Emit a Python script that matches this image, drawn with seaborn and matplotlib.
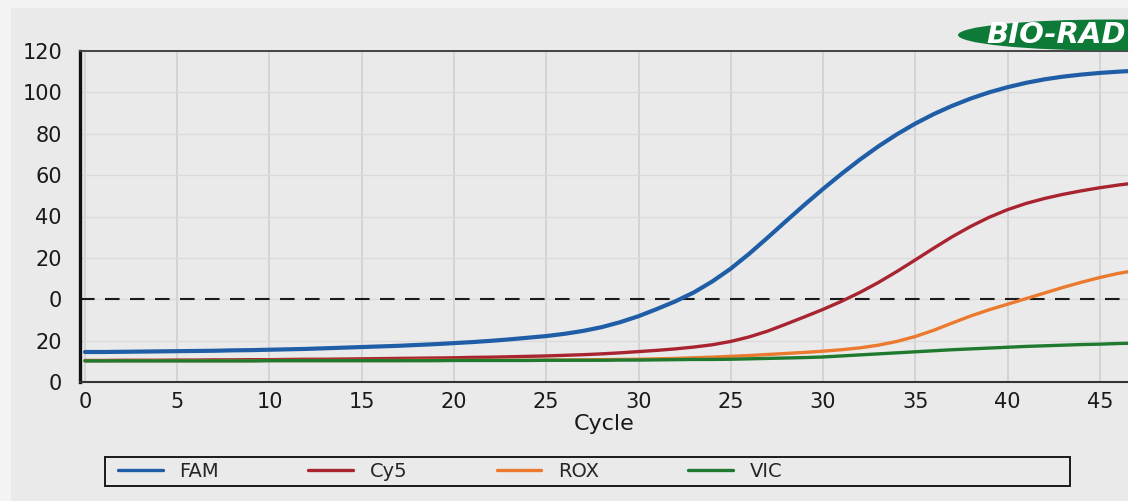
import numpy as np
import pandas as pd
import seaborn as sns
import matplotlib
matplotlib.use("Agg")
import matplotlib.pyplot as plt
from matplotlib.patches import Rectangle, Ellipse

# Amplification curves (relative fluorescence) per cycle position
cycles = list(range(0, 58))

fam = [14.5, 14.5, 14.6, 14.7, 14.8, 14.9, 15.0, 15.1, 15.3, 15.4,
       15.6, 15.8, 16.0, 16.3, 16.6, 16.9, 17.2, 17.5, 17.9, 18.3,
       18.8, 19.3, 19.9, 20.6, 21.4, 22.2, 23.3, 24.7, 26.5, 28.9,
       31.8, 35.3, 39.0, 43.3, 48.6, 54.8, 62.0, 69.8, 77.8, 85.7,
       93.3, 100.6, 107.5, 113.9, 119.7, 124.9, 129.5, 133.5, 137.0, 140.0,
       142.5, 144.6, 146.3, 147.6, 148.6, 149.4, 150.0, 150.5]

cy5 = [10.4, 10.4, 10.5, 10.5, 10.5, 10.6, 10.6, 10.7, 10.7, 10.8,
       10.8, 10.9, 11.0, 11.0, 11.1, 11.2, 11.3, 11.4, 11.5, 11.6,
       11.7, 11.9, 12.0, 12.2, 12.4, 12.6, 12.9, 13.2, 13.6, 14.1,
       14.7, 15.3, 16.0, 16.9, 18.0, 19.6, 21.8, 24.6, 28.0, 31.5,
       35.1, 39.0, 43.3, 48.1, 53.4, 59.0, 64.7, 70.2, 75.2, 79.6,
       83.3, 86.3, 88.7, 90.7, 92.4, 93.9, 95.2, 96.3]

rox = [10.3, 10.3, 10.3, 10.3, 10.3, 10.3, 10.3, 10.3, 10.3, 10.3,
       10.4, 10.4, 10.4, 10.4, 10.4, 10.4, 10.4, 10.4, 10.5, 10.5,
       10.5, 10.5, 10.5, 10.5, 10.5, 10.6, 10.6, 10.7, 10.8, 10.9,
       11.0, 11.2, 11.4, 11.7, 12.0, 12.4, 12.8, 13.3, 13.8, 14.3,
       14.9, 15.6, 16.5, 17.8, 19.6, 22.0, 25.0, 28.5, 31.9, 34.9,
       37.6, 40.3, 43.0, 45.7, 48.2, 50.5, 52.5, 54.0]

vic = [10.2, 10.2, 10.2, 10.2, 10.2, 10.2, 10.2, 10.2, 10.2, 10.2,
       10.3, 10.3, 10.3, 10.3, 10.3, 10.3, 10.3, 10.3, 10.3, 10.3,
       10.4, 10.4, 10.4, 10.4, 10.4, 10.5, 10.5, 10.5, 10.5, 10.6,
       10.6, 10.7, 10.8, 10.9, 10.9, 11.0, 11.2, 11.4, 11.6, 11.8,
       12.1, 12.6, 13.1, 13.6, 14.1, 14.6, 15.1, 15.6, 16.0, 16.4,
       16.8, 17.2, 17.5, 17.8, 18.1, 18.3, 18.6, 18.8]

dyes = ["FAM", "Cy5", "ROX", "VIC"]
colors = ["#1f5ea6", "#a82430", "#eb7a2e", "#1f7a30"]
widths = [3.0, 2.4, 2.4, 2.4]

threshold = 40

x_tick_pos = [0, 5, 10, 15, 20, 25, 30, 35, 40, 45, 50, 55]
x_tick_labels = ["0", "5", "10", "15", "20", "25", "30", "25", "30", "35", "40", "45"]
y_tick_pos = [0, 20, 40, 60, 80, 100, 120, 140, 160]
y_tick_labels = ["0", "20", "0", "20", "40", "60", "80", "100", "120"]

df = pd.DataFrame({"cycle": cycles * 4,
                   "rfu": fam + cy5 + rox + vic,
                   "dye": sum([[d] * len(cycles) for d in dyes], [])})

sns.set_theme(style="whitegrid")
plt.rcParams["font.family"] = ["DejaVu Sans"]

W, H = 1128, 501
fig = plt.figure(figsize=(W / 100, H / 100), dpi=100, facecolor="#f3f3f3")
fig.patches.append(Rectangle((11 / W, 0), 1, (H - 8) / H, transform=fig.transFigure,
                             facecolor="#eaeaea", edgecolor="none", zorder=-5))

ax = fig.add_axes([80 / W, 119 / H, 1 - 80 / W, 331 / H])
ax.set_facecolor("#eaeaea")

for dye, col, lw in zip(dyes, colors, widths):
    sns.lineplot(data=df[df["dye"] == dye], x="cycle", y="rfu", color=col,
                 linewidth=lw, label=dye, ax=ax, zorder=3)

ax.axhline(threshold, color="#1a1a1a", linewidth=1.5, dashes=(7, 5), zorder=2)

ax.set_xlim(-0.27, 56.53)
ax.set_ylim(0, 160)
ax.set_xticks(x_tick_pos)
ax.set_xticklabels(x_tick_labels)
ax.set_yticks(y_tick_pos)
ax.set_yticklabels(y_tick_labels)
ax.tick_params(axis="both", length=0, labelsize=15, labelcolor="#1a1a1a")
ax.tick_params(axis="x", pad=7)
ax.tick_params(axis="y", pad=13)
ax.set_xlabel("Cycle", fontsize=16, color="#1a1a1a", labelpad=2)
ax.set_ylabel("")

ax.grid(True, axis="x", color="#d0d0d0", linewidth=1.2)
ax.grid(True, axis="y", color="#dadada", linewidth=0.9)

ax.spines["right"].set_visible(False)
ax.spines["left"].set_color("#111111")
ax.spines["left"].set_linewidth(2.4)
ax.spines["bottom"].set_color("#333333")
ax.spines["bottom"].set_linewidth(1.5)
ax.spines["top"].set_color("#444444")
ax.spines["top"].set_linewidth(1.4)
for s in ax.spines.values():
    s.set_zorder(4)

handles, labels = ax.get_legend_handles_labels()
leg = ax.legend(handles, labels, ncol=4, loc="center left",
                bbox_to_anchor=(118 / W, (H - 471.5) / H), bbox_transform=fig.transFigure,
                frameon=False, fontsize=14, handlelength=2.3, handletextpad=0.85,
                columnspacing=4.6, borderpad=0, borderaxespad=0)
for ln in leg.get_lines():
    ln.set_linewidth(2.4)
fig.patches.append(Rectangle((105 / W, (H - 486) / H), 965 / W, 29 / H,
                             transform=fig.transFigure, facecolor="none",
                             edgecolor="#1a1a1a", linewidth=1.4, zorder=5))

# Brand badge in the top right corner
fig.patches.append(Ellipse((1110 / W, (H - 35) / H), 304 / W, 31 / H,
                           transform=fig.transFigure, facecolor="#0e7a37",
                           edgecolor="none", zorder=6))
fig.text(986 / W, (H - 35) / H, "BIO-RAD", color="white", fontsize=21,
         fontweight="bold", fontstyle="italic", va="center", ha="left", zorder=7)

fig.savefig("out.png", dpi=100, facecolor=fig.get_facecolor())
